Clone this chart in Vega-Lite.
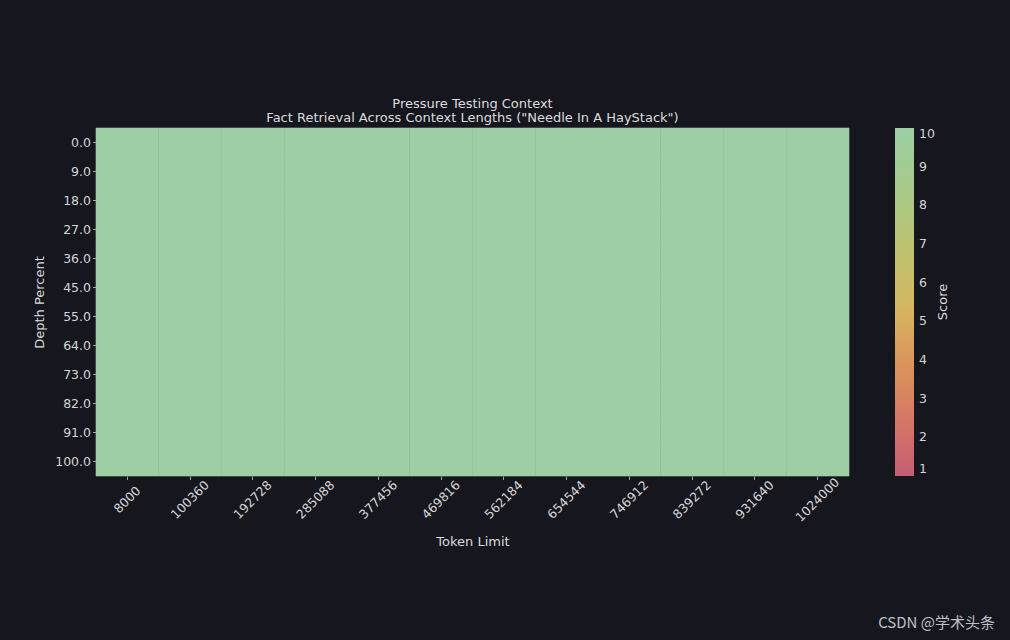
{
  "$schema": "https://vega.github.io/schema/vega-lite/v6.json",
  "width": 753,
  "height": 348,
  "autosize": {"type": "none"},
  "padding": {"left": 96, "top": 128, "right": 161, "bottom": 164},
  "background": "#15161e",
  "config": {
    "font": "DejaVu Sans",
    "view": {"stroke": null},
    "axis": {
      "labelColor": "#d4d4d4",
      "labelFontSize": 12.5,
      "tickColor": "#c8c8c8",
      "tickSize": 3.5,
      "tickWidth": 0.8,
      "domain": false,
      "grid": false,
      "titleColor": "#dcdcdc",
      "titleFontSize": 13,
      "titleFontWeight": "normal"
    },
    "legend": {
      "labelColor": "#d4d4d4",
      "labelFontSize": 12.5,
      "titleColor": "#dcdcdc",
      "titleFontSize": 13,
      "titleFontWeight": "normal"
    }
  },
  "title": {
    "text": "Pressure Testing Context",
    "subtitle": "Fact Retrieval Across Context Lengths (\"Needle In A HayStack\")",
    "anchor": "middle",
    "frame": "group",
    "color": "#dcdcdc",
    "subtitleColor": "#dcdcdc",
    "fontSize": 13,
    "subtitleFontSize": 13,
    "fontWeight": "normal",
    "subtitlePadding": 1,
    "offset": 3
  },
  "layer": [
    {
      "data": {
        "values": [
          {"t": 8000, "d": 0, "s": 10}, {"t": 8000, "d": 9, "s": 10}, {"t": 8000, "d": 18, "s": 10}, {"t": 8000, "d": 27, "s": 10}, {"t": 8000, "d": 36, "s": 10}, {"t": 8000, "d": 45, "s": 10}, {"t": 8000, "d": 55, "s": 10}, {"t": 8000, "d": 64, "s": 10}, {"t": 8000, "d": 73, "s": 10}, {"t": 8000, "d": 82, "s": 10}, {"t": 8000, "d": 91, "s": 10}, {"t": 8000, "d": 100, "s": 10},
          {"t": 100360, "d": 0, "s": 10}, {"t": 100360, "d": 9, "s": 10}, {"t": 100360, "d": 18, "s": 10}, {"t": 100360, "d": 27, "s": 10}, {"t": 100360, "d": 36, "s": 10}, {"t": 100360, "d": 45, "s": 10}, {"t": 100360, "d": 55, "s": 10}, {"t": 100360, "d": 64, "s": 10}, {"t": 100360, "d": 73, "s": 10}, {"t": 100360, "d": 82, "s": 10}, {"t": 100360, "d": 91, "s": 10}, {"t": 100360, "d": 100, "s": 10},
          {"t": 192728, "d": 0, "s": 10}, {"t": 192728, "d": 9, "s": 10}, {"t": 192728, "d": 18, "s": 10}, {"t": 192728, "d": 27, "s": 10}, {"t": 192728, "d": 36, "s": 10}, {"t": 192728, "d": 45, "s": 10}, {"t": 192728, "d": 55, "s": 10}, {"t": 192728, "d": 64, "s": 10}, {"t": 192728, "d": 73, "s": 10}, {"t": 192728, "d": 82, "s": 10}, {"t": 192728, "d": 91, "s": 10}, {"t": 192728, "d": 100, "s": 10},
          {"t": 285088, "d": 0, "s": 10}, {"t": 285088, "d": 9, "s": 10}, {"t": 285088, "d": 18, "s": 10}, {"t": 285088, "d": 27, "s": 10}, {"t": 285088, "d": 36, "s": 10}, {"t": 285088, "d": 45, "s": 10}, {"t": 285088, "d": 55, "s": 10}, {"t": 285088, "d": 64, "s": 10}, {"t": 285088, "d": 73, "s": 10}, {"t": 285088, "d": 82, "s": 10}, {"t": 285088, "d": 91, "s": 10}, {"t": 285088, "d": 100, "s": 10},
          {"t": 377456, "d": 0, "s": 10}, {"t": 377456, "d": 9, "s": 10}, {"t": 377456, "d": 18, "s": 10}, {"t": 377456, "d": 27, "s": 10}, {"t": 377456, "d": 36, "s": 10}, {"t": 377456, "d": 45, "s": 10}, {"t": 377456, "d": 55, "s": 10}, {"t": 377456, "d": 64, "s": 10}, {"t": 377456, "d": 73, "s": 10}, {"t": 377456, "d": 82, "s": 10}, {"t": 377456, "d": 91, "s": 10}, {"t": 377456, "d": 100, "s": 10},
          {"t": 469816, "d": 0, "s": 10}, {"t": 469816, "d": 9, "s": 10}, {"t": 469816, "d": 18, "s": 10}, {"t": 469816, "d": 27, "s": 10}, {"t": 469816, "d": 36, "s": 10}, {"t": 469816, "d": 45, "s": 10}, {"t": 469816, "d": 55, "s": 10}, {"t": 469816, "d": 64, "s": 10}, {"t": 469816, "d": 73, "s": 10}, {"t": 469816, "d": 82, "s": 10}, {"t": 469816, "d": 91, "s": 10}, {"t": 469816, "d": 100, "s": 10},
          {"t": 562184, "d": 0, "s": 10}, {"t": 562184, "d": 9, "s": 10}, {"t": 562184, "d": 18, "s": 10}, {"t": 562184, "d": 27, "s": 10}, {"t": 562184, "d": 36, "s": 10}, {"t": 562184, "d": 45, "s": 10}, {"t": 562184, "d": 55, "s": 10}, {"t": 562184, "d": 64, "s": 10}, {"t": 562184, "d": 73, "s": 10}, {"t": 562184, "d": 82, "s": 10}, {"t": 562184, "d": 91, "s": 10}, {"t": 562184, "d": 100, "s": 10},
          {"t": 654544, "d": 0, "s": 10}, {"t": 654544, "d": 9, "s": 10}, {"t": 654544, "d": 18, "s": 10}, {"t": 654544, "d": 27, "s": 10}, {"t": 654544, "d": 36, "s": 10}, {"t": 654544, "d": 45, "s": 10}, {"t": 654544, "d": 55, "s": 10}, {"t": 654544, "d": 64, "s": 10}, {"t": 654544, "d": 73, "s": 10}, {"t": 654544, "d": 82, "s": 10}, {"t": 654544, "d": 91, "s": 10}, {"t": 654544, "d": 100, "s": 10},
          {"t": 746912, "d": 0, "s": 10}, {"t": 746912, "d": 9, "s": 10}, {"t": 746912, "d": 18, "s": 10}, {"t": 746912, "d": 27, "s": 10}, {"t": 746912, "d": 36, "s": 10}, {"t": 746912, "d": 45, "s": 10}, {"t": 746912, "d": 55, "s": 10}, {"t": 746912, "d": 64, "s": 10}, {"t": 746912, "d": 73, "s": 10}, {"t": 746912, "d": 82, "s": 10}, {"t": 746912, "d": 91, "s": 10}, {"t": 746912, "d": 100, "s": 10},
          {"t": 839272, "d": 0, "s": 10}, {"t": 839272, "d": 9, "s": 10}, {"t": 839272, "d": 18, "s": 10}, {"t": 839272, "d": 27, "s": 10}, {"t": 839272, "d": 36, "s": 10}, {"t": 839272, "d": 45, "s": 10}, {"t": 839272, "d": 55, "s": 10}, {"t": 839272, "d": 64, "s": 10}, {"t": 839272, "d": 73, "s": 10}, {"t": 839272, "d": 82, "s": 10}, {"t": 839272, "d": 91, "s": 10}, {"t": 839272, "d": 100, "s": 10},
          {"t": 931640, "d": 0, "s": 10}, {"t": 931640, "d": 9, "s": 10}, {"t": 931640, "d": 18, "s": 10}, {"t": 931640, "d": 27, "s": 10}, {"t": 931640, "d": 36, "s": 10}, {"t": 931640, "d": 45, "s": 10}, {"t": 931640, "d": 55, "s": 10}, {"t": 931640, "d": 64, "s": 10}, {"t": 931640, "d": 73, "s": 10}, {"t": 931640, "d": 82, "s": 10}, {"t": 931640, "d": 91, "s": 10}, {"t": 931640, "d": 100, "s": 10},
          {"t": 1024000, "d": 0, "s": 10}, {"t": 1024000, "d": 9, "s": 10}, {"t": 1024000, "d": 18, "s": 10}, {"t": 1024000, "d": 27, "s": 10}, {"t": 1024000, "d": 36, "s": 10}, {"t": 1024000, "d": 45, "s": 10}, {"t": 1024000, "d": 55, "s": 10}, {"t": 1024000, "d": 64, "s": 10}, {"t": 1024000, "d": 73, "s": 10}, {"t": 1024000, "d": 82, "s": 10}, {"t": 1024000, "d": 91, "s": 10}, {"t": 1024000, "d": 100, "s": 10}
        ]
      },
      "mark": {"type": "rect", "stroke": "#9dcea4", "strokeWidth": 0.6},
      "encoding": {
        "x": {
          "field": "t",
          "type": "ordinal",
          "title": "Token Limit",
          "axis": {
            "labelAngle": -45,
            "labelAlign": "center",
            "labelBaseline": "middle",
            "labelPadding": 20,
            "titlePadding": 12
          }
        },
        "y": {
          "field": "d",
          "type": "ordinal",
          "title": "Depth Percent",
          "axis": {
            "format": ".1f",
            "formatType": "number",
            "labelPadding": 2,
            "titlePadding": 8
          }
        },
        "color": {
          "field": "s",
          "type": "quantitative",
          "title": "Score",
          "scale": {
            "domain": [1, 5.5, 10],
            "range": ["#c45f72", "#d4b862", "#9dcea4"]
          },
          "legend": {
            "orient": "right",
            "offset": 46,
            "direction": "vertical",
            "gradientLength": 348,
            "gradientThickness": 19,
            "gradientStrokeWidth": 0,
            "values": [1, 2, 3, 4, 5, 6, 7, 8, 9, 10],
            "labelOffset": 5,
            "titleOrient": "right",
            "titlePadding": 15,
            "titleAnchor": "middle",
            "encode": {"title": {"update": {"angle": {"value": -90}}}}
          }
        }
      }
    },
    {
      "data": {"values": [{"label": "CSDN @学术头条"}]},
      "mark": {
        "type": "text",
        "align": "right",
        "baseline": "alphabetic",
        "font": "Noto Sans CJK SC",
        "fontSize": 15,
        "color": "#bfc1c8",
        "x": {"expr": "width + 146"},
        "y": {"expr": "height + 152"}
      },
      "encoding": {"text": {"field": "label"}}
    }
  ]
}
